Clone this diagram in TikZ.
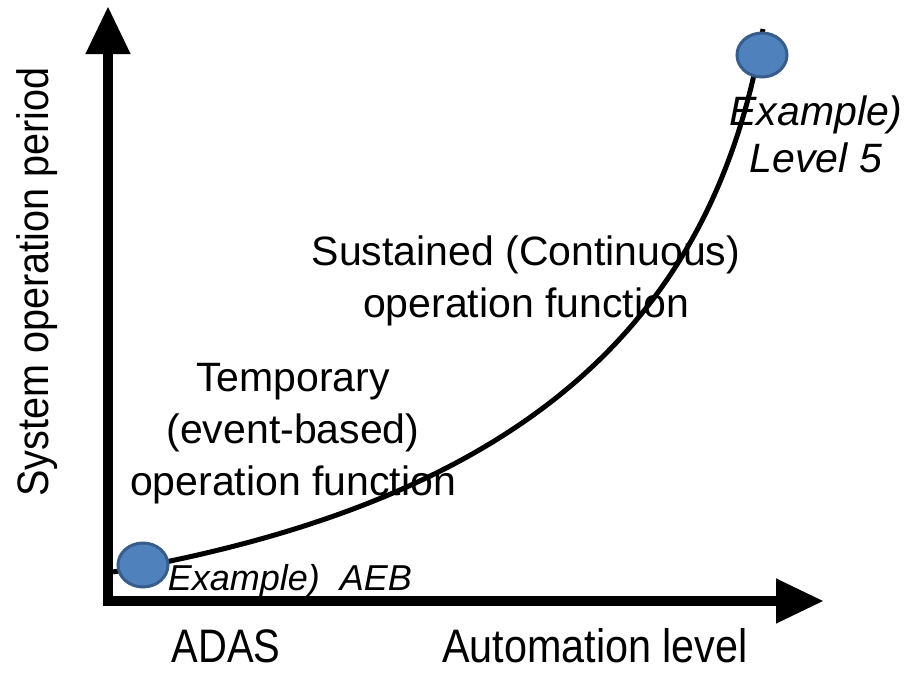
\documentclass[tikz,border=0pt]{standalone}
\usepackage{fontspec}
\setmainfont{Liberation Sans}
\usetikzlibrary{arrows.meta,shapes.geometric}
\definecolor{dotfill}{HTML}{4F81BD}
\definecolor{dotedge}{HTML}{385D8A}
\tikzset{
  axis/.style={line width=10.5pt, -{Triangle[length=48pt,width=42pt]}},
  trend/.style={line width=5pt, black},
  dot/.style={ellipse, draw=dotedge, fill=dotfill, line width=3pt,
              minimum width=50pt, minimum height=44pt, inner sep=0pt},
  body/.style={align=center, inner sep=0pt, font=\fontsize{41}{52}\selectfont},
  note/.style={align=center, inner sep=0pt, font=\fontsize{41}{47}\selectfont\itshape},
  axislabel/.style={inner sep=0pt, font=\fontsize{47}{52}\selectfont}
}
\begin{document}
\begin{tikzpicture}[x=1pt, y=-1pt]
  \useasboundingbox (0,0) rectangle (919,678);
  % axes
  \coordinate (origin) at (108,603);
  \coordinate (ytip) at (108,6);
  \coordinate (xtip) at (824,601);
  \coordinate (xstart) at (103,601);
  \draw[axis] (origin) -- (ytip);
  \draw[axis] (xstart) -- (xtip);

  % axis labels
  \node[axislabel, rotate=90, font=\fontsize{44}{50}\selectfont] (ylabel) at (37,282)
    {\scalebox{0.9}[1]{System operation period}};
  \node[axislabel, anchor=base] (adas) at (226,662) {\scalebox{0.85}[1]{ADAS}};
  \node[axislabel, anchor=base] (autolevel) at (595,662) {\scalebox{0.88}[1]{Automation level}};

  % descriptions (base anchor = baseline of the last line)
  \node[body, anchor=base] (temp) at (293,495)
    {Temporary\\(event-based)\\operation function};
  \node[body, anchor=base] (sust) at (526,317)
    {Sustained (Continuous)\\operation function};
  \node[note, anchor=base, font=\fontsize{36}{40}\selectfont\itshape] (aeb) at (290,590)
    {Example)~~AEB};
  \node[note, anchor=base] (lvl5) at (816,172) {Example)\\Level 5};

  % trend curve between the two example points
  \coordinate (cstart) at (113,572);
  \coordinate (cend) at (763,29);
  \draw[trend] (cstart) .. controls (513,502) and (713,330) .. (cend);

  % example points
  \node[dot] (low) at (143,565) {};
  \node[dot] (high) at (762,55) {};
\end{tikzpicture}
\end{document}
